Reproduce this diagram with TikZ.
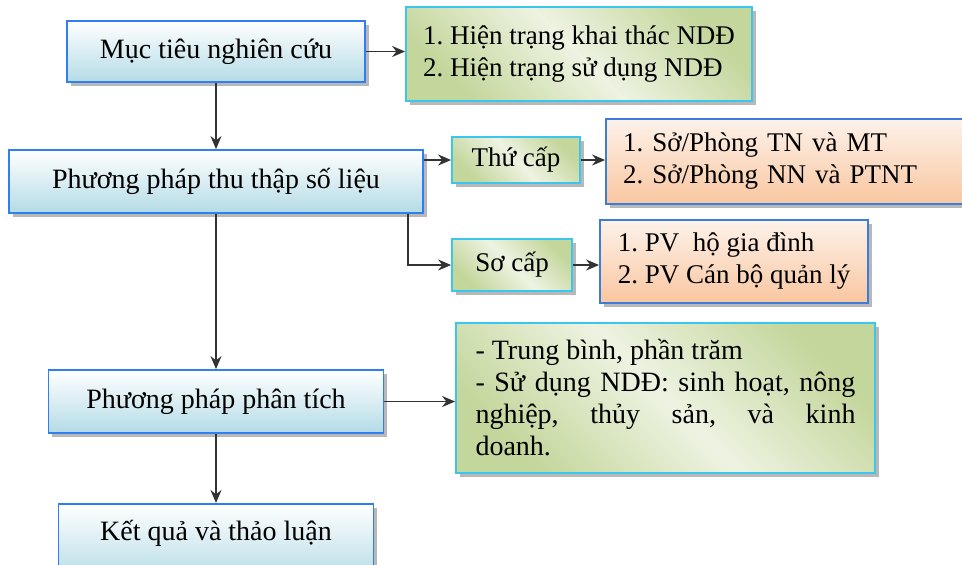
\documentclass[tikz,border=0pt]{standalone}
\usepackage{fontspec}
\setmainfont{Liberation Serif}
\usetikzlibrary{arrows.meta,shadows}
\setlength{\parindent}{0pt}
\frenchspacing
\definecolor{edgeblue}{HTML}{2F7EF2}
\definecolor{edgecyan}{HTML}{3AC6EF}
\definecolor{edgepeach}{HTML}{3B7DD8}
\definecolor{skybottom}{HTML}{B4DBE6}
\definecolor{peachtop}{HTML}{FDF2EA}
\definecolor{peachbottom}{HTML}{F9C6A0}
\definecolor{olivedark}{HTML}{C3D69B}
\definecolor{olivelight}{HTML}{EEF3E2}
\definecolor{arrowgray}{HTML}{333333}
\pgfdeclarehorizontalshading{olivewash}{100bp}{color(0bp)=(olivedark); color(25bp)=(olivedark); color(50bp)=(olivelight); color(75bp)=(olivedark); color(100bp)=(olivedark)}
\begin{document}
\begin{tikzpicture}[
		x=0.5pt, y=-0.5pt,
		boxbase/.style={line width=0.9pt, font=\fontsize{14}{16}\selectfont,
				drop shadow={shadow xshift=1.8pt, shadow yshift=-1.8pt, fill=black, opacity=0.28}},
		bluebox/.style={boxbase, draw=edgeblue, top color=white, bottom color=skybottom},
		olivebox/.style={boxbase, draw=edgecyan, shading=olivewash, shading angle=45},
		peachbox/.style={boxbase, draw=edgepeach, top color=peachtop, bottom color=peachbottom},
		listtext/.style={align=left, font=\fontsize{13.5}{16}\selectfont},
		link/.style={draw=arrowgray, line width=0.8pt, -{Stealth[length=6.5pt,width=5.5pt]}}
	]
	\useasboundingbox (0,0) rectangle (962,564);
	\clip (0,0) rectangle (962,564);

	\node[bluebox, minimum width=149pt, minimum height=30.5pt] (obj) at (216,51.5) {Mục tiêu nghiên cứu};
	\node[bluebox, minimum width=207pt, minimum height=31.5pt] (collect) at (216,181.5) {Phương pháp thu thập số liệu};
	\node[bluebox, minimum width=167.5pt, minimum height=31.5pt] (method) at (216,401.5) {Phương pháp phân tích};
	\node[bluebox, minimum width=157.5pt, inner ysep=0pt, text height=18.5pt, text depth=20pt, anchor=north] (result) at (216,503) {Kết quả và thảo luận};

	\node[olivebox, listtext, minimum width=173pt, minimum height=47pt] (status) at (579,54)
		{1. Hiện trạng khai thác NDĐ\\2. Hiện trạng sử dụng NDĐ};
	\node[olivebox, font=\fontsize{13.5}{16}\selectfont, minimum width=64pt, minimum height=23pt] (thucap) at (516,160) {Thứ cấp};
	\node[olivebox, font=\fontsize{13.5}{16}\selectfont, minimum width=60pt, minimum height=26pt] (socap) at (512,265) {Sơ cấp};
	\node[peachbox, listtext, text width=170pt, inner xsep=8.5pt, minimum height=42.5pt] (agencies) at (793,161.5)
		{1. Sở/Phòng TN và MT\\2. Sở/Phòng NN và PTNT};
	\node[peachbox, listtext, minimum width=134pt, minimum height=41.5pt] (interview) at (734,261.5)
		{1. PV\ \ hộ gia đình\\2. PV Cán bộ quản lý};
	\node[olivebox, text width=190pt, inner xsep=9.75pt, align=justify, minimum height=75pt] (stats) at (665.5,398)
		{\hbadness=10000\hangindent=11pt\hangafter=1 - Trung bình, phần trăm\par
		 \hangindent=11pt\hangafter=1 - Sử dụng NDĐ: sinh hoạt, nông\linebreak nghiệp, thủy sản, và kinh\linebreak doanh.};

	\draw[link] (obj.east) -- (obj.east -| status.west);
	\draw[link] (obj.south) -- (collect.north);
	\draw[link] (collect.east |- thucap.west) -- (thucap.west);
	\draw[link] (thucap.east) -- (thucap.east -| agencies.west);
	\draw[link] ([xshift=-8pt]collect.south east) |- (socap.west);
	\draw[link] (socap.east) -- (socap.east -| interview.west);
	\draw[link] (collect.south) -- (method.north);
	\draw[link] (method.east) -- (method.east -| stats.west);
	\draw[link] (method.south) -- (result.north);
\end{tikzpicture}
\end{document}
